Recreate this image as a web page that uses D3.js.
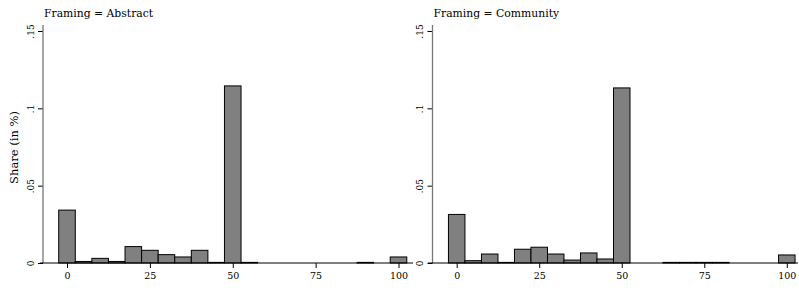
<!DOCTYPE html>
<html>
<head>
<meta charset="utf-8">
<script src="https://cdn.jsdelivr.net/npm/d3@7"></script>
<style>
  body { margin: 0; background: #fff; }
  svg text { font-family: "DejaVu Serif", serif; fill: #000; }
</style>
</head>
<body>
<div id="chart"></div>
<script>
// bin centres (width 5) and share per bin
const bins = [0, 5, 10, 15, 20, 25, 30, 35, 40, 45, 50, 55, 60, 65, 70, 75, 80, 85, 90, 95, 100];
const abstractShare = [0.0342, 0.0010, 0.0030, 0.0010, 0.0106, 0.0082, 0.0054, 0.0039, 0.0082, 0.0004, 0.1145,
                       0.0004, 0, 0, 0, 0, 0, 0, 0.0004, 0, 0.0039];
const communityShare = [0.0314, 0.0015, 0.0058, 0.0004, 0.0089, 0.0102, 0.0058, 0.0019, 0.0065, 0.0026, 0.1132,
                        0, 0, 0.0004, 0.0004, 0.0004, 0.0004, 0, 0, 0, 0.0052];
const panelTitles = ['Framing = Abstract', 'Framing = Community'];
const xTicks = [0, 25, 50, 75, 100];
const yTicks = [0, 0.05, 0.1, 0.15];
const yTickLabels = ['0', '.05', '.1', '.15'];
const yTitle = 'Share (in %)';

let width = 799, height = 290;
let svg = d3.select('#chart').append('svg')
    .attr('width', width)
    .attr('height', height);

let panels = [
    {title: panelTitles[0], values: abstractShare, x0: 67, x1: 398.5, axisX: 43, lineFrom: 40, lineTo: 413},
    {title: panelTitles[1], values: communityShare, x0: 456.7, x1: 786.8, axisX: 432.5, lineFrom: 428, lineTo: 798}
];

let y = d3.scaleLinear().domain([0, 0.15]).range([263, 31]);
let binWidth = 5;

panels.forEach(function(p) {
    let x = d3.scaleLinear().domain([0, 100]).range([p.x0, p.x1]);
    let g = svg.append('g');

    // y axis
    let yAxis = g.append('g')
        .attr('transform', 'translate(' + p.axisX + ',0)')
        .call(d3.axisLeft(y).tickValues(yTicks).tickSize(5).tickSizeOuter(0)
            .tickFormat(function(d, i) { return yTickLabels[i]; }));
    yAxis.attr('font-family', null).attr('font-size', null);
    yAxis.select('.domain').remove();
    yAxis.selectAll('.tick line').attr('stroke', '#000');
    yAxis.selectAll('.tick text')
        .attr('x', 0).attr('dy', 0)
        .attr('transform', 'translate(-9.5,0) rotate(-90)')
        .attr('text-anchor', 'middle')
        .style('font-size', '9px');
    g.append('line')
        .attr('x1', p.axisX).attr('x2', p.axisX)
        .attr('y1', 25).attr('y2', y(0))
        .attr('stroke', '#777').attr('stroke-width', 1.3);

    // bars
    let data = bins.map(function(b, i) { return {bin: b, v: p.values[i]}; })
        .filter(function(d) { return d.v > 0; });
    g.selectAll('rect.bar')
        .data(data)
        .enter().append('rect')
        .attr('class', 'bar')
        .attr('x', function(d) { return x(d.bin - binWidth / 2); })
        .attr('width', function(d) { return x(d.bin + binWidth / 2) - x(d.bin - binWidth / 2); })
        .attr('y', function(d) { return y(d.v); })
        .attr('height', function(d) { return y(0) - y(d.v); })
        .attr('fill', '#808080')
        .attr('stroke', '#000')
        .attr('stroke-width', 1);

    // x axis
    let xAxis = g.append('g')
        .attr('transform', 'translate(0,' + y(0) + ')')
        .call(d3.axisBottom(x).tickValues(xTicks).tickSize(5).tickSizeOuter(0));
    xAxis.attr('font-family', null).attr('font-size', null);
    xAxis.select('.domain').remove();
    xAxis.selectAll('.tick line').attr('stroke', '#000');
    xAxis.selectAll('.tick text').attr('y', 9).style('font-size', '9.5px');
    g.append('line')
        .attr('x1', p.lineFrom).attr('x2', p.lineTo)
        .attr('y1', y(0)).attr('y2', y(0))
        .attr('stroke', '#000').attr('stroke-width', 1.2);

    // panel title
    g.append('text')
        .attr('x', p.axisX + 1)
        .attr('y', 17)
        .style('font-size', '10.8px')
        .text(p.title);
});

svg.append('text')
    .attr('transform', 'translate(18,147.5) rotate(-90)')
    .attr('text-anchor', 'middle')
    .style('font-size', '11.5px')
    .text(yTitle);
</script>
</body>
</html>
